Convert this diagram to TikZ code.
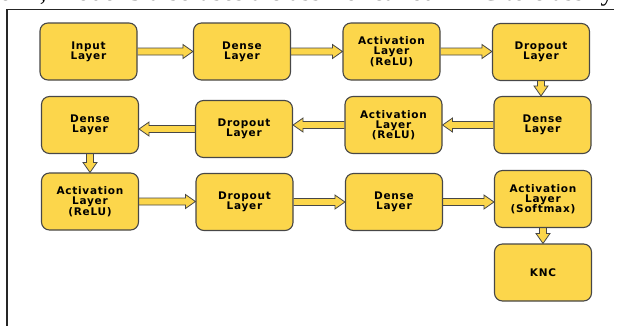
\documentclass[tikz,border=0pt]{standalone}
\usepackage{fontspec}
\setmainfont{Liberation Serif}
\newfontfamily\boxfont[LetterSpace=7]{DejaVu Sans}
\usetikzlibrary{calc,backgrounds}

\definecolor{boxfill}{HTML}{FCD64B}
\definecolor{boxline}{HTML}{474747}

\tikzset{
  layer/.style={draw=boxline, line width=1.1pt, fill=boxfill, rounded corners=8pt,
    minimum width=97pt, minimum height=57pt, inner sep=0pt, align=center,
    font=\boxfont\bfseries\fontsize{10.5}{10.3}\selectfont},
  % hollow block arrow from start to target: shaft, then a wide head
  flow/.style={draw=boxline, line width=0.8pt, fill=boxfill, line join=miter,
    to path={let \p1=(\tikztostart), \p2=(\tikztotarget),
      \n1={atan2(\y2-\y1,\x2-\x1)}, \n2={veclen(\x2-\x1,\y2-\y1)-10} in
      ($(\p1)+(\n1+90:3.5pt)$)
      -- ($(\p1)+(\n1:\n2)+(\n1+90:3.5pt)$)
      -- ($(\p1)+(\n1:\n2)+(\n1+90:7pt)$)
      -- (\p2)
      -- ($(\p1)+(\n1:\n2)+(\n1-90:7pt)$)
      -- ($(\p1)+(\n1:\n2)+(\n1-90:3.5pt)$)
      -- ($(\p1)+(\n1-90:3.5pt)$)}},
  frameline/.style={draw=black!85, line width=1.7pt}
}

\begin{document}
\begin{tikzpicture}[x=1pt, y=-1pt]
\useasboundingbox (0,0) rectangle (622,325);

% running text line above the frame
\node[anchor=base west, inner sep=0pt, font=\fontsize{26.6}{26.6}\selectfont] (caption) at (-1,0)
  {er 2, Model 3 also uses a classifier called KNC to classify};

% frame
\draw[frameline] (614,9.5) -- (7,9.5) -- (7,330);

% row 1
\node[layer] (in1) at (88.5,51.5) {Input\\Layer};
\node[layer] (d1)  at (242,51.5)  {Dense\\Layer};
\node[layer] (a1)  at (391.5,51.5) {Activation\\Layer\\(ReLU)};
\node[layer] (p1)  at (541,52)    {Dropout\\Layer};

% row 2
\node[layer] (d2) at (542.5,125) {Dense\\Layer};
\node[layer] (a2) at (393.5,125) {Activation\\Layer\\(ReLU)};
\node[layer] (p2) at (244,129)   {Dropout\\Layer};
\node[layer] (d3) at (90,125)    {Dense\\Layer};

% row 3
\node[layer] (a3) at (90,201.5)  {Activation\\Layer\\(ReLU)};
\node[layer] (p3) at (244.5,202) {Dropout\\Layer};
\node[layer] (d4) at (394,202)   {Dense\\Layer};
\node[layer] (sm) at (543,199)   {Activation\\Layer\\(Softmax)};
\node[layer] (kn) at (543,272.5) {KNC};

\begin{scope}[on background layer]
  \draw[flow] (in1.east) to (in1.east -| d1.west);
  \draw[flow] (d1.east) to (d1.east -| a1.west);
  \draw[flow] (a1.east) to (a1.east -| p1.west);
  \draw[flow] (p1.south) to (p1.south |- d2.north);
  \draw[flow] (d2.west) to (d2.west -| a2.east);
  \draw[flow] (a2.west) to (a2.west -| p2.east);
  \draw[flow] (p2.west) to (p2.west -| d3.east);
  \draw[flow] (d3.south) to (d3.south |- a3.north);
  \draw[flow] (a3.east) to (a3.east -| p3.west);
  \draw[flow] (p3.east) to (p3.east -| d4.west);
  \draw[flow] (d4.east) to (d4.east -| sm.west);
  \draw[flow] (sm.south) to (sm.south |- kn.north);
\end{scope}
\end{tikzpicture}
\end{document}
